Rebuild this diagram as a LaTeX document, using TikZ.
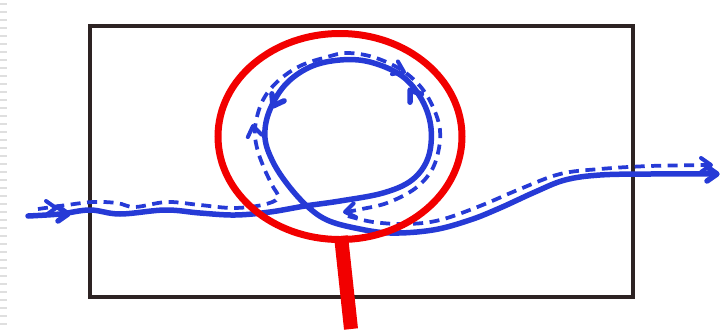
\documentclass[tikz,border=0pt]{standalone}
\usepackage{tikz}
\definecolor{inkblue}{RGB}{38,58,214}
\definecolor{lensred}{RGB}{242,0,0}
\definecolor{framegray}{RGB}{45,35,35}

\tikzset{
  chev/.pic={\draw[solid, line cap=round, line join=round] (-10,-7) -- (0,0) -- (-10,7);}
}

\begin{document}
\begin{tikzpicture}[x=0.02cm, y=-0.02cm,
    frame/.style={draw=framegray, line width=0.08cm},
    path solid/.style={draw=inkblue, line width=0.11cm, line cap=round, line join=round},
    path dash/.style={draw=inkblue, line width=0.075cm, dash pattern=on 0.2cm off 0.13cm},
    lens/.style={draw=lensred, line width=0.14cm}]
  \useasboundingbox (0,0) rectangle (728,329);

  % slide edge
  \foreach \y in {4,12,...,324}
    \draw[gray!25, line width=0.03cm] (0,\y) -- (7,\y);

  % frame
  \draw[frame] (90,26) rectangle (633,297);

  % solid path with loop
  \draw[path solid] plot[smooth, tension=0.6] coordinates {
    (28,216) (60,214) (90,210) (120,214) (165,210) (200,213) (235,215)
    (270,212) (305,206) (340,201) (383,193) (412,180) (428,158) (431,128)
    (422,100) (402,76) (370,62) (340,60) (310,67) (285,85) (269,112)
    (265,138) (273,162) (288,185) (307,206) (327,220) (355,228) (390,233)
    (433,230) (470,220) (500,208) (535,192) (565,180) (600,175) (650,174)
    (715,174)};

  % dashed path
  \draw[path dash] plot[smooth, tension=0.6] coordinates {
    (38,209) (67,205) (93,202) (117,203) (135,207) (167,202) (200,205)
    (233,208) (262,205) (278,198) (272,185) (264,168) (257,148) (255,128)
    (262,102) (277,82) (300,66) (327,57) (347,53) (373,57) (400,69)
    (420,86) (433,107) (440,130) (438,153) (430,173) (413,190) (387,203)
    (362,209) (346,212)};
  \draw[path dash] plot[smooth, tension=0.6] coordinates {
    (348,216) (373,222) (407,224) (440,220) (480,206) (520,189) (560,174)
    (600,169) (650,166) (708,165)};

  % arrow marks
  \pic[path solid] at (68,214) {chev};
  \pic[path solid, rotate=125] at (410,90) {chev};
  \pic[path solid, rotate=240] at (273,106) {chev};
  \pic[path solid] at (717,174) {chev};
  \pic[path dash, line width=0.08cm] at (56,208) {chev};
  \pic[path dash, line width=0.08cm, rotate=100] at (253,126) {chev};
  \pic[path dash, line width=0.08cm, rotate=-25] at (404,72) {chev};
  \pic[path dash, line width=0.08cm, rotate=190] at (345,212) {chev};
  \pic[path dash, line width=0.08cm] at (711,165) {chev};

  % magnifier
  \draw[lens] (340,136.5) ellipse [x radius=122, y radius=103];
  \draw[draw=lensred, line width=0.28cm] (341,236) -- (351,329);
\end{tikzpicture}
\end{document}
